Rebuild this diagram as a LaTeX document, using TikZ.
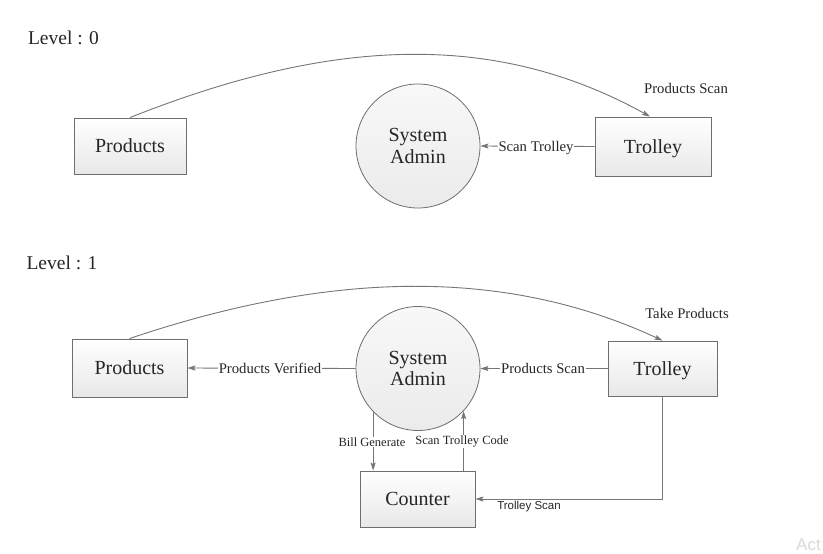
\documentclass[tikz,border=0pt]{standalone}
\usepackage{fontspec}
\setmainfont{Liberation Serif}
\newfontfamily\labsans{Liberation Sans}
\usetikzlibrary{arrows.meta,calc}
\definecolor{linegray}{HTML}{767676}
\definecolor{boxedge}{HTML}{6E6E6E}
\definecolor{txt}{HTML}{262626}
\definecolor{boxbot}{HTML}{E8E8E8}
\definecolor{circtop}{HTML}{F8F8F8}
\definecolor{circbot}{HTML}{EBEBEB}
\tikzset{
  box/.style={rectangle, draw=boxedge, line width=0.9pt, top color=white, bottom color=boxbot,
    inner sep=0pt, text depth=0pt, text=txt, font=\fontsize{20}{22}\selectfont},
  proc/.style={circle, draw=boxedge, line width=0.8pt, top color=circtop, bottom color=circbot,
    minimum size=124pt, inner sep=0pt, align=center, text=txt, font=\fontsize{20}{21.5}\selectfont},
  flow/.style={draw=linegray, line width=0.9pt, -{Stealth[length=8pt,width=5pt,inset=1.5pt]}},
  lbl/.style={anchor=base, inner sep=0.8pt, text=txt, font=\fontsize{14.7}{16}\selectfont},
  lbls/.style={anchor=base, inner sep=0.8pt, text=txt, font=\fontsize{12.5}{14}\selectfont},
  sanslbl/.style={anchor=base, inner sep=0.8pt, text=txt, font=\labsans\fontsize{11.5}{13}\selectfont},
  ttl/.style={anchor=base, inner sep=0pt, text=txt, font=\fontsize{19.5}{21}\selectfont},
}
\begin{document}
\begin{tikzpicture}[x=1pt,y=-1pt]
\useasboundingbox (0,0) rectangle (823,554);
\clip (0,0) rectangle (823,554);
\fill[white] (0,0) rectangle (823,554);

% Level 0
\node[ttl] (lv0) at (63.5,45) {Level : 0};
\node[box, minimum width=112pt, minimum height=56pt] (p0) at (130,146) {Products};
\node[proc] (s0) at (418,146) {System\\Admin};
\node[box, minimum width=116pt, minimum height=59pt] (t0) at (653,146.5) {Trolley};

\draw[flow] (p0.north) .. controls (330,38) and (494,30) .. ([xshift=-3pt]t0.north);
\node[lbl] (l0a) at (686,93) {Products Scan};
\draw[flow] (t0.west) -- (s0.east);
\node[lbl, fill=white] (l0b) at (536,151) {Scan Trolley};

% Level 1
\node[ttl] (lv1) at (62,269) {Level : 1};
\node[box, minimum width=115pt, minimum height=58pt] (p1) at (129.5,368) {Products};
\node[proc] (s1) at (418,368.5) {System\\Admin};
\node[box, minimum width=109pt, minimum height=55pt] (t1) at (662.5,368.5) {Trolley};
\node[box, minimum width=115pt, minimum height=56pt] (c1) at (417.5,499) {Counter};

\draw[flow] (p1.north) .. controls (330,271) and (504,267) .. (t1.north);
\node[lbl] (l1a) at (687,318) {Take Products};

\draw[flow] (s1.west) -- (p1.east);
\node[lbl, fill=white] (l1b) at (270,373) {Products Verified};

\draw[flow] (t1.west) -- (s1.east);
\node[lbl, fill=white] (l1c) at (543,373) {Products Scan};

\draw[flow] (s1.224.8) -- (s1.224.8 |- c1.north);
\node[lbls, fill=white] (l1d) at (372,446) {Bill Generate};

\draw[flow] (c1.north -| s1.317.9) -- (s1.317.9);
\node[lbls, fill=white] (l1e) at (462,444) {Scan Trolley Code};

\draw[flow] (t1.south) |- (c1.east);
\node[sanslbl] (l1f) at (529,509) {Trolley Scan};

% watermark
\node[anchor=south east, inner sep=0pt, text=black!15, font=\labsans\fontsize{17}{19}\selectfont] (wm) at (821,551) {Act};
\end{tikzpicture}
\end{document}
